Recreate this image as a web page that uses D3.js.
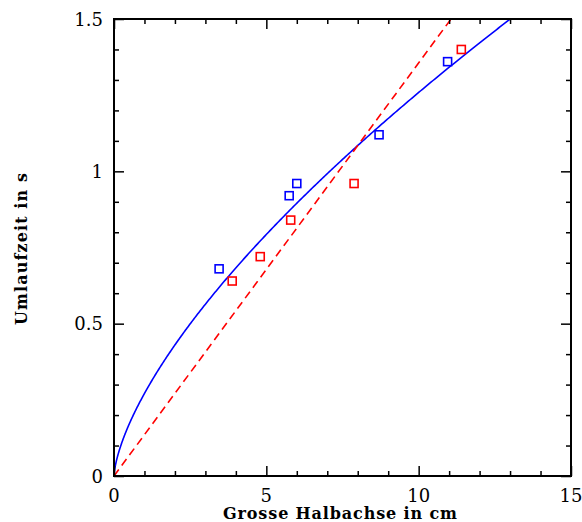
<!DOCTYPE html>
<html><head><meta charset="utf-8">
<script src="https://cdn.jsdelivr.net/npm/d3@7"></script>
<style>body{margin:0;background:#fff}</style>
</head><body>
<svg id="c" width="582" height="522"></svg>
<script>
// Data
const blueX = [3.45, 5.75, 6.0, 8.7, 10.95];
const blueY = [0.68, 0.92, 0.96, 1.12, 1.36];
const redX = [3.88, 4.8, 5.8, 7.88, 11.4];
const redY = [0.64, 0.72, 0.84, 0.96, 1.40];
// fitted models
const powerFit = {k: 0.271, p: 0.667, xMax: 13.0};   // blue: T = k * a^p
const linearFit = {slope: 0.1356};                    // red dashed: T = slope * a
const xTicks = [0, 5, 10, 15];
const yTicks = [0, 0.5, 1, 1.5];
const xLabel = "Grosse Halbachse in cm";
const yLabel = "Umlaufzeit in s";

const svg = d3.select("#c");
const L = 114, R = 571, T = 19, B = 476;
const x = d3.scaleLinear().domain([0, 15]).range([L, R]);
const y = d3.scaleLinear().domain([0, 1.5]).range([B, T]);
const font = "'DejaVu Serif', serif";

const defs = svg.append("defs");
defs.append("clipPath").attr("id", "clip").append("rect")
  .attr("x", L).attr("y", T).attr("width", R - L).attr("height", B - T);

// curves
const g = svg.append("g").attr("clip-path", "url(#clip)");
const curvePts = d3.range(0, 401).map(i => {
  const xv = powerFit.xMax * Math.pow(i / 400, 2);
  return [xv, powerFit.k * Math.pow(xv, powerFit.p)];
});
const line = d3.line().x(d => x(d[0])).y(d => y(d[1]));
g.append("path").attr("d", line(curvePts)).attr("fill", "none")
  .attr("stroke", "#0000ff").attr("stroke-width", 1.6);
const xEnd = 1.5 / linearFit.slope;
g.append("path").attr("d", line([[0, 0], [xEnd, 1.5]])).attr("fill", "none")
  .attr("stroke", "#ff0000").attr("stroke-width", 1.6).attr("stroke-dasharray", "8,5");

// markers
const s = 8;
svg.append("g").selectAll("rect").data(blueX.map((v, i) => [v, blueY[i]])).join("rect")
  .attr("x", d => x(d[0]) - s / 2).attr("y", d => y(d[1]) - s / 2)
  .attr("width", s).attr("height", s).attr("fill", "none")
  .attr("stroke", "#0000ff").attr("stroke-width", 1.6);
svg.append("g").selectAll("rect").data(redX.map((v, i) => [v, redY[i]])).join("rect")
  .attr("x", d => x(d[0]) - s / 2).attr("y", d => y(d[1]) - s / 2)
  .attr("width", s).attr("height", s).attr("fill", "none")
  .attr("stroke", "#ff0000").attr("stroke-width", 1.6);

// axes with inward ticks on all sides
function addAxis(axisGen, tf) {
  const a = svg.append("g").attr("transform", tf).call(axisGen);
  a.select(".domain").remove();
  a.selectAll("text").remove();
  a.selectAll("line").attr("stroke", "#000").attr("stroke-width", 1.5);
  return a;
}
const xMinor = d3.range(0, 16, 1), yMinor = d3.range(0, 1.51, 0.1);
const yMin = yMinor.filter(v => Math.abs(v * 2 - Math.round(v * 2)) > 1e-6);
const xMin = xMinor.filter(v => v % 5 !== 0);
addAxis(d3.axisBottom(x).tickValues(xMin).tickSize(-5), `translate(0,${B})`);
addAxis(d3.axisBottom(x).tickValues(xTicks).tickSize(-10), `translate(0,${B})`);
addAxis(d3.axisTop(x).tickValues(xMin).tickSize(-5), `translate(0,${T})`);
addAxis(d3.axisTop(x).tickValues(xTicks).tickSize(-10), `translate(0,${T})`);
addAxis(d3.axisLeft(y).tickValues(yMin).tickSize(-5), `translate(${L},0)`);
addAxis(d3.axisLeft(y).tickValues(yTicks).tickSize(-10), `translate(${L},0)`);
addAxis(d3.axisRight(y).tickValues(yMin).tickSize(-5), `translate(${R},0)`);
addAxis(d3.axisRight(y).tickValues(yTicks).tickSize(-10), `translate(${R},0)`);

svg.append("rect").attr("x", L).attr("y", T).attr("width", R - L).attr("height", B - T)
  .attr("fill", "none").attr("stroke", "#000").attr("stroke-width", 2);

// tick labels
svg.append("g").selectAll("text").data(xTicks).join("text")
  .attr("x", d => x(d)).attr("y", 502).attr("text-anchor", "middle")
  .attr("font-family", font).attr("font-size", 18).text(d => d);
svg.append("g").selectAll("text").data(yTicks).join("text")
  .attr("x", 103).attr("y", d => y(d) + 6.5).attr("text-anchor", "end")
  .attr("font-family", font).attr("font-size", 18).text(d => d);

// titles
svg.append("text").attr("x", 340).attr("y", 519).attr("text-anchor", "middle")
  .attr("font-family", font).attr("font-size", 16).attr("font-weight", "bold")
  .attr("textLength", 234).attr("lengthAdjust", "spacing").text(xLabel);
svg.append("text").attr("transform", `translate(27,249) rotate(-90)`).attr("text-anchor", "middle")
  .attr("font-family", font).attr("font-size", 16).attr("font-weight", "bold")
  .attr("textLength", 152).attr("lengthAdjust", "spacing").text(yLabel);
</script>
</body></html>
